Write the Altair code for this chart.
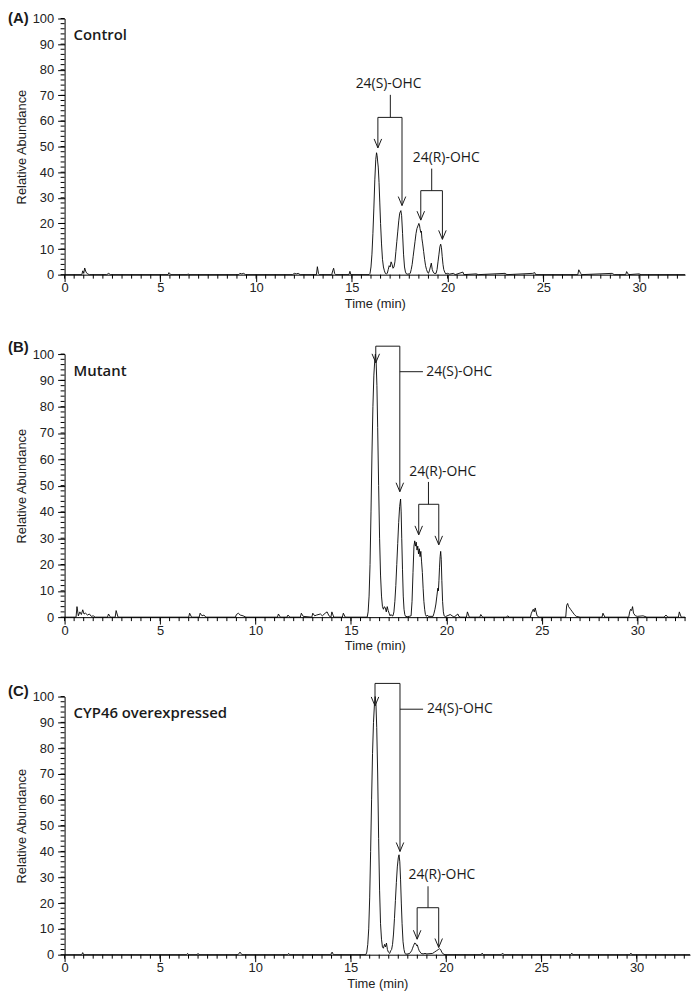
import altair as alt
import pandas as pd

# ---------------- chromatogram traces (time in min, relative abundance in %) -------------
A_time = [
    0.0, 0.9, 0.95, 1.0, 1.05, 1.12, 1.2, 1.3,
    2.2, 2.3, 2.4, 5.4, 5.45, 5.55, 6.4, 6.45, 6.5,
    9.1, 9.15, 9.25, 9.35, 9.45, 11.9, 12.0, 12.1, 12.2, 12.3,
    13.15, 13.2, 13.26, 13.3, 13.95, 14.0, 14.05, 14.1, 14.15, 14.85, 14.9, 14.95,
    15.9, 15.95, 16.0, 16.05, 16.1, 16.15, 16.2, 16.25, 16.29, 16.32,
    16.35, 16.38, 16.42, 16.46, 16.5, 16.55, 16.6, 16.65, 16.7, 16.75,
    16.8, 16.85, 16.9, 16.95, 17.0, 17.05, 17.1, 17.15, 17.2, 17.25,
    17.3, 17.35, 17.4, 17.45, 17.5, 17.56, 17.6, 17.65, 17.7, 17.75,
    17.8, 17.85, 17.9, 18.0, 18.05, 18.1, 18.15, 18.2, 18.25, 18.3,
    18.35, 18.4, 18.45, 18.5, 18.53, 18.56, 18.6, 18.63, 18.66, 18.7,
    18.75, 18.8, 18.85, 18.9, 18.95, 19.0, 19.05, 19.1, 19.15, 19.2,
    19.25, 19.3, 19.4, 19.45, 19.5, 19.55, 19.6, 19.64, 19.68, 19.72,
    19.76, 19.8, 19.85, 19.9, 20.0, 20.1, 20.3, 20.4, 20.8, 20.85,
    21.5, 21.6, 23.0, 23.1, 24.45, 24.55, 24.6, 26.8, 26.85, 26.95,
    27.0, 28.6, 28.7, 29.3, 29.35, 29.45, 30.0, 30.1, 32.4,
]
A_abund = [
    0, 0, 1.5, 0.5, 2.6, 1.0, 0.3, 0,
    0, 0.5, 0, 0, 0.8, 0, 0, 0.3, 0,
    0, 0.5, 0.3, 0.5, 0, 0, 0.5, 0.3, 0.5, 0,
    0, 3.1, 0.4, 0, 0, 1.5, 2.5, 0.5, 0, 0, 1.3, 0,
    0, 0.5, 3, 8, 16, 26, 37, 45, 47.6, 46.5,
    44, 42, 36, 28, 20, 12, 6, 3, 1.5, 0.5,
    0.3, 0.5, 2, 3.5, 3, 5, 4, 2.5, 3, 5,
    9, 13, 17, 21, 24, 25, 23, 16, 8, 3,
    1, 0.3, 0.2, 0.3, 0.5, 2, 4, 7, 10, 13,
    16, 18, 19, 20, 19.5, 18, 16.5, 17, 14, 12,
    9, 6, 3.5, 2, 1, 0.5, 1.5, 3, 4.5, 2,
    1, 0.5, 0.5, 2, 5, 8, 11, 11.9, 10.5, 7,
    4, 2, 1, 0.3, 0.5, 0.2, 0.5, 0, 1, 0,
    0.3, 0, 0.5, 0, 0.5, 0.8, 0, 0, 1.9, 0.5,
    0, 0.5, 0, 0, 1.2, 0, 0.3, 0, 0,
]

B_time = [
    0.0, 0.6, 0.65, 0.72, 0.8, 0.88, 0.95, 1.02, 1.1, 1.2,
    1.3, 1.4, 1.5, 1.6, 2.25, 2.3, 2.4, 2.65, 2.7, 2.8,
    6.5, 6.55, 6.65, 7.05, 7.1, 7.2, 7.3, 7.4, 8.95, 9.0,
    9.1, 9.2, 9.35, 9.5, 11.15, 11.2, 11.3, 11.65, 11.7, 11.8,
    12.35, 12.4, 12.5, 12.95, 13.0, 13.1, 13.2, 13.4, 13.5, 13.65,
    13.75, 13.85, 13.95, 14.0, 14.1, 14.55, 14.6, 14.7, 15.85, 15.9,
    15.95, 16.0, 16.05, 16.1, 16.15, 16.2, 16.25, 16.28, 16.32, 16.36,
    16.4, 16.45, 16.5, 16.55, 16.6, 16.65, 16.7, 16.75, 16.8, 16.85,
    16.9, 16.95, 17.0, 17.05, 17.1, 17.15, 17.2, 17.25, 17.3, 17.35,
    17.4, 17.45, 17.5, 17.55, 17.6, 17.63, 17.66, 17.7, 17.74, 17.78,
    17.82, 17.86, 17.95, 18.05, 18.15, 18.2, 18.25, 18.3, 18.34, 18.38,
    18.42, 18.46, 18.5, 18.54, 18.58, 18.62, 18.66, 18.7, 18.74, 18.78,
    18.82, 18.86, 18.9, 18.95, 19.0, 19.05, 19.3, 19.35, 19.4, 19.45,
    19.5, 19.55, 19.58, 19.61, 19.64, 19.67, 19.7, 19.73, 19.76, 19.8,
    19.84, 19.88, 19.95, 20.2, 20.3, 20.4, 20.6, 20.65, 20.75, 21.05,
    21.1, 21.2, 21.75, 21.8, 21.9, 23.15, 23.2, 23.3, 24.4, 24.45,
    24.55, 24.6, 24.65, 24.75, 24.85, 26.25, 26.3, 26.35, 26.4, 26.5,
    26.6, 26.7, 26.8, 27.0, 28.15, 28.2, 28.3, 29.55, 29.6, 29.65,
    29.7, 29.75, 29.8, 29.9, 30.0, 30.3, 30.5, 31.4, 31.5, 31.6,
    32.15, 32.2, 32.3, 32.5,
]
B_abund = [
    0, 0, 4.0, 0.5, 2, 1, 2.8, 1.2, 1.5, 0.8,
    1.2, 0.3, 0.5, 0, 0, 1.2, 0, 0, 2.5, 0,
    0, 1.5, 0, 0, 1.5, 0.5, 0.8, 0, 0, 1,
    1.5, 0.8, 0.5, 0, 0, 1.2, 0, 0, 0.8, 0,
    0, 1.5, 0.3, 0, 1.5, 0.5, 0.8, 1.2, 0.5, 1.5,
    2.0, 0.5, 0, 2, 0, 0, 1.5, 0, 0, 2,
    8, 20, 40, 62, 80, 92, 98, 100, 97, 88,
    72, 50, 30, 16, 8, 4, 3, 4, 3.5, 2,
    4, 2.5, 1.5, 0.5, 1, 0.5, 0.5, 2, 6, 12,
    20, 28, 36, 42, 44.9, 40, 30, 18, 8, 3,
    1, 0.3, 0.2, 0.3, 0.5, 6, 17, 27, 29, 27,
    28.5, 25.5, 27, 24, 26, 23, 25, 21, 17, 11,
    6, 3, 1, 0.3, 0.8, 0.3, 0.3, 1.5, 3, 5,
    8, 11, 10, 14, 19, 23, 25, 22, 14, 6,
    2, 0.5, 0.2, 1, 0.5, 0, 1.2, 0.3, 0, 0,
    2, 0, 0, 1, 0, 0, 0.5, 0, 0, 1.5,
    3, 2, 3.5, 0.5, 0, 0, 4.5, 5.2, 4, 3,
    2, 1, 0.3, 0, 0, 1.5, 0, 0, 2, 3,
    2.5, 4, 1.5, 0.5, 0.3, 0.5, 0, 0, 0.8, 0,
    0, 2, 0, 0,
]

C_time = [
    0.0, 0.9, 0.95, 1.0, 6.4, 6.45, 6.5, 6.95, 7.0, 7.05,
    9.1, 9.2, 9.3, 11.7, 11.75, 11.8, 13.95, 14.03, 14.1, 15.8,
    15.85, 15.9, 15.95, 16.0, 16.05, 16.1, 16.15, 16.2, 16.25, 16.29,
    16.33, 16.37, 16.42, 16.47, 16.52, 16.57, 16.62, 16.67, 16.72, 16.78,
    16.83, 16.88, 16.93, 16.98, 17.05, 17.1, 17.15, 17.2, 17.25, 17.3,
    17.35, 17.4, 17.45, 17.5, 17.54, 17.58, 17.62, 17.66, 17.7, 17.75,
    17.8, 17.85, 17.9, 18.0, 18.1, 18.15, 18.2, 18.25, 18.3, 18.36,
    18.42, 18.46, 18.5, 18.55, 18.6, 18.65, 18.7, 18.8, 18.9, 19.0,
    19.3, 19.4, 19.5, 19.6, 19.67, 19.72, 19.78, 19.85, 19.95, 21.85,
    21.9, 21.95, 22.9, 22.97, 23.05, 26.55, 26.6, 26.65, 29.65, 29.7,
    29.75, 32.8,
]
C_abund = [
    0, 0, 0.8, 0, 0, 0.5, 0, 0, 0.5, 0,
    0, 1.0, 0, 0, 0.5, 0, 0, 1.0, 0, 0,
    1, 4, 10, 22, 40, 60, 78, 90, 97, 100,
    97, 88, 70, 45, 25, 12, 6, 3, 2.5, 4,
    3, 4.5, 2, 1, 0.5, 1.5, 2, 4, 8, 14,
    21, 28, 34, 37.5, 38.7, 36, 29, 20, 12, 5,
    2, 0.5, 0.2, 0.3, 0.5, 1, 1.5, 2.5, 3.5, 4.5,
    4.3, 3.5, 3.8, 2.5, 1.5, 1, 0.5, 0.3, 0.5, 0.3,
    0.5, 1, 1.5, 2, 2.3, 2, 1, 0.3, 0, 0,
    0.6, 0, 0, 0.6, 0, 0, 0.6, 0, 0, 0.6,
    0, 0,
]

# ---------------- annotation geometry (data units: min, %) ----------------
A_seg_t1 = [17.01, 16.36, 16.36, 17.62, 19.17, 18.60, 18.60, 19.73]
A_seg_v1 = [70.2, 61.4, 61.4, 61.4, 41.4, 32.8, 32.8, 32.8]
A_seg_t2 = [17.01, 17.62, 16.36, 17.62, 19.17, 19.73, 18.60, 19.73]
A_seg_v2 = [61.4, 61.4, 49.5, 27.0, 32.8, 32.8, 21.3, 13.8]
A_arrow_t = [16.36, 17.62, 18.60, 19.73]
A_arrow_v = [49.5, 27.0, 21.3, 13.8]
A_labels = [("24(S)-OHC", 16.92, 74.5, "center"), ("24(R)-OHC", 19.93, 45.5, "center")]

B_seg_t1 = [16.30, 16.30, 17.56, 17.56, 19.06, 18.55, 18.55, 19.60]
B_seg_v1 = [103.0, 103.0, 103.0, 93.3, 51.4, 42.9, 42.9, 42.9]
B_seg_t2 = [17.56, 16.30, 17.56, 18.77, 19.06, 19.60, 18.55, 19.60]
B_seg_v2 = [103.0, 96.7, 47.7, 93.3, 42.9, 42.9, 31.3, 27.5]
B_arrow_t = [16.30, 17.56, 18.55, 19.60]
B_arrow_v = [96.7, 47.7, 31.3, 27.5]
B_labels = [("24(S)-OHC", 18.95, 93.3, "left"), ("24(R)-OHC", 19.81, 55.2, "center")]

C_seg_t1 = [16.28, 16.28, 17.59, 17.59, 19.06, 18.49, 18.49, 19.62]
C_seg_v1 = [105.1, 105.1, 105.1, 95.1, 26.5, 18.2, 18.2, 18.2]
C_seg_t2 = [17.59, 16.28, 17.59, 18.80, 19.06, 19.62, 18.49, 19.62]
C_seg_v2 = [105.1, 96.4, 40.0, 95.1, 18.2, 18.2, 6.0, 2.8]
C_arrow_t = [16.28, 17.59, 18.49, 19.62]
C_arrow_v = [96.4, 40.0, 6.0, 2.8]
C_labels = [("24(S)-OHC", 19.0, 95.1, "left"), ("24(R)-OHC", 19.79, 31.0, "center")]

PANEL_TITLES = ["Control", "Mutant", "CYP46 overexpressed"]
PANEL_LETTERS = ["(A)", "(B)", "(C)"]
X_MAX = [32.4, 32.5, 32.8]

# axis ticks: labelled major ticks and unlabelled minor ticks
Y_MAJOR = [0, 10, 20, 30, 40, 50, 60, 70, 80, 90, 100]
Y_MINOR = list(range(0, 101, 2))
X_MAJOR = [0, 5, 10, 15, 20, 25, 30]
X_MINOR = [i * 0.5 for i in range(0, 67)]

INK = "#1a1a1a"
ARROW = "M-0.42,-1L0,0L0.42,-1"
MINOR_LEN = 4


def panel(time, abund, seg, arrow_t, arrow_v, labels, title, letter, letter_y, xmax, w, h):
    assert len(time) == len(abund)
    xs = alt.Scale(domain=[0, xmax], nice=False, zero=False)
    ys = alt.Scale(domain=[0, 100], nice=False)
    xaxis = alt.Axis(
        values=X_MAJOR, format="d", tickSize=7,
        labelPadding=0, titlePadding=3, labelFlush=False, labelOverlap=False,
        labelBound=False, grid=False,
    )
    yaxis = alt.Axis(
        values=Y_MAJOR, format="d", tickSize=7,
        labelPadding=4, titlePadding=4, labelFlush=False, labelOverlap=False,
        labelBound=False, grid=False,
    )

    def X(field):
        return alt.X(field, scale=xs, axis=xaxis, title="Time (min)")

    def Y(field):
        return alt.Y(field, scale=ys, axis=yaxis, title="Relative Abundance")

    line_df = pd.DataFrame({"t": time, "v": abund})
    line = alt.Chart(line_df).mark_line(color="black", strokeWidth=0.9).encode(
        x=X("t:Q"), y=Y("v:Q"), order="t:Q",
    )
    # minor tick combs along both axes (unlabelled)
    xm_df = pd.DataFrame({"t": [v for v in X_MINOR if v <= xmax]})
    xminor = alt.Chart(xm_df).mark_rule(color="black", strokeWidth=1).encode(
        x=X("t:Q"), y=alt.value(h), y2=alt.value(h + MINOR_LEN)
    )
    ym_df = pd.DataFrame({"v": Y_MINOR})
    yminor = alt.Chart(ym_df).mark_rule(color="black", strokeWidth=1).encode(
        y=Y("v:Q"), x=alt.value(-MINOR_LEN), x2=alt.value(0)
    )

    seg_df = pd.DataFrame({"t1": seg[0], "v1": seg[1], "t2": seg[2], "v2": seg[3]})
    segs = alt.Chart(seg_df).mark_rule(color=INK, strokeWidth=1).encode(
        x=X("t1:Q"), x2="t2:Q", y=Y("v1:Q"), y2="v2:Q",
    )
    arr_df = pd.DataFrame({"t": arrow_t, "v": arrow_v})
    arrows = alt.Chart(arr_df).mark_point(
        shape=ARROW, filled=False, size=324, color=INK, strokeWidth=1, opacity=1
    ).encode(x=X("t:Q"), y=Y("v:Q"))
    layers = [line, xminor, yminor, segs, arrows]
    for text, t, v, align in labels:
        df = pd.DataFrame({"t": [t], "v": [v], "s": [text]})
        layers.append(
            alt.Chart(df).mark_text(
                font="Open Sans", fontSize=14, align=align, baseline="middle", color=INK
            ).encode(x=X("t:Q"), y=Y("v:Q"), text="s:N")
        )
    ttl = alt.Chart(pd.DataFrame({"s": [title]})).mark_text(
        font="Open Sans", fontSize=15, fontWeight=600, align="left",
        baseline="middle", color=INK,
    ).encode(x=alt.value(9), y=alt.value(17), text="s:N")
    let = alt.Chart(pd.DataFrame({"s": [letter]})).mark_text(
        font="Liberation Sans", fontSize=15, fontWeight="bold", align="left",
        baseline="middle", color=INK,
    ).encode(x=alt.value(-57), y=alt.value(letter_y), text="s:N")
    layers += [ttl, let]
    return alt.layer(*layers).properties(width=w, height=h)


pA = panel(A_time, A_abund, (A_seg_t1, A_seg_v1, A_seg_t2, A_seg_v2), A_arrow_t, A_arrow_v,
           A_labels, PANEL_TITLES[0], PANEL_LETTERS[0], 0, X_MAX[0], 625, 258)
pB = panel(B_time, B_abund, (B_seg_t1, B_seg_v1, B_seg_t2, B_seg_v2), B_arrow_t, B_arrow_v,
           B_labels, PANEL_TITLES[1], PANEL_LETTERS[1], -7, X_MAX[1], 625, 265)
pC = panel(C_time, C_abund, (C_seg_t1, C_seg_v1, C_seg_t2, C_seg_v2), C_arrow_t, C_arrow_v,
           C_labels, PANEL_TITLES[2], PANEL_LETTERS[2], -6, X_MAX[2], 630, 260)

chart = alt.vconcat(pA, pB, pC, spacing=80, bounds="flush").properties(
    padding={"left": 0, "top": 0, "right": 0, "bottom": 0}
).configure_view(stroke=None).configure_axis(
    domainColor="black", tickColor="black", labelColor="#222", titleColor="#222",
    labelFont="Liberation Sans", titleFont="Liberation Sans", labelFontSize=13,
    titleFontSize=13, titleFontWeight="normal", domainWidth=1, tickWidth=1,
)

chart.save("out.html", embed_options={"renderer": "svg", "actions": False})
